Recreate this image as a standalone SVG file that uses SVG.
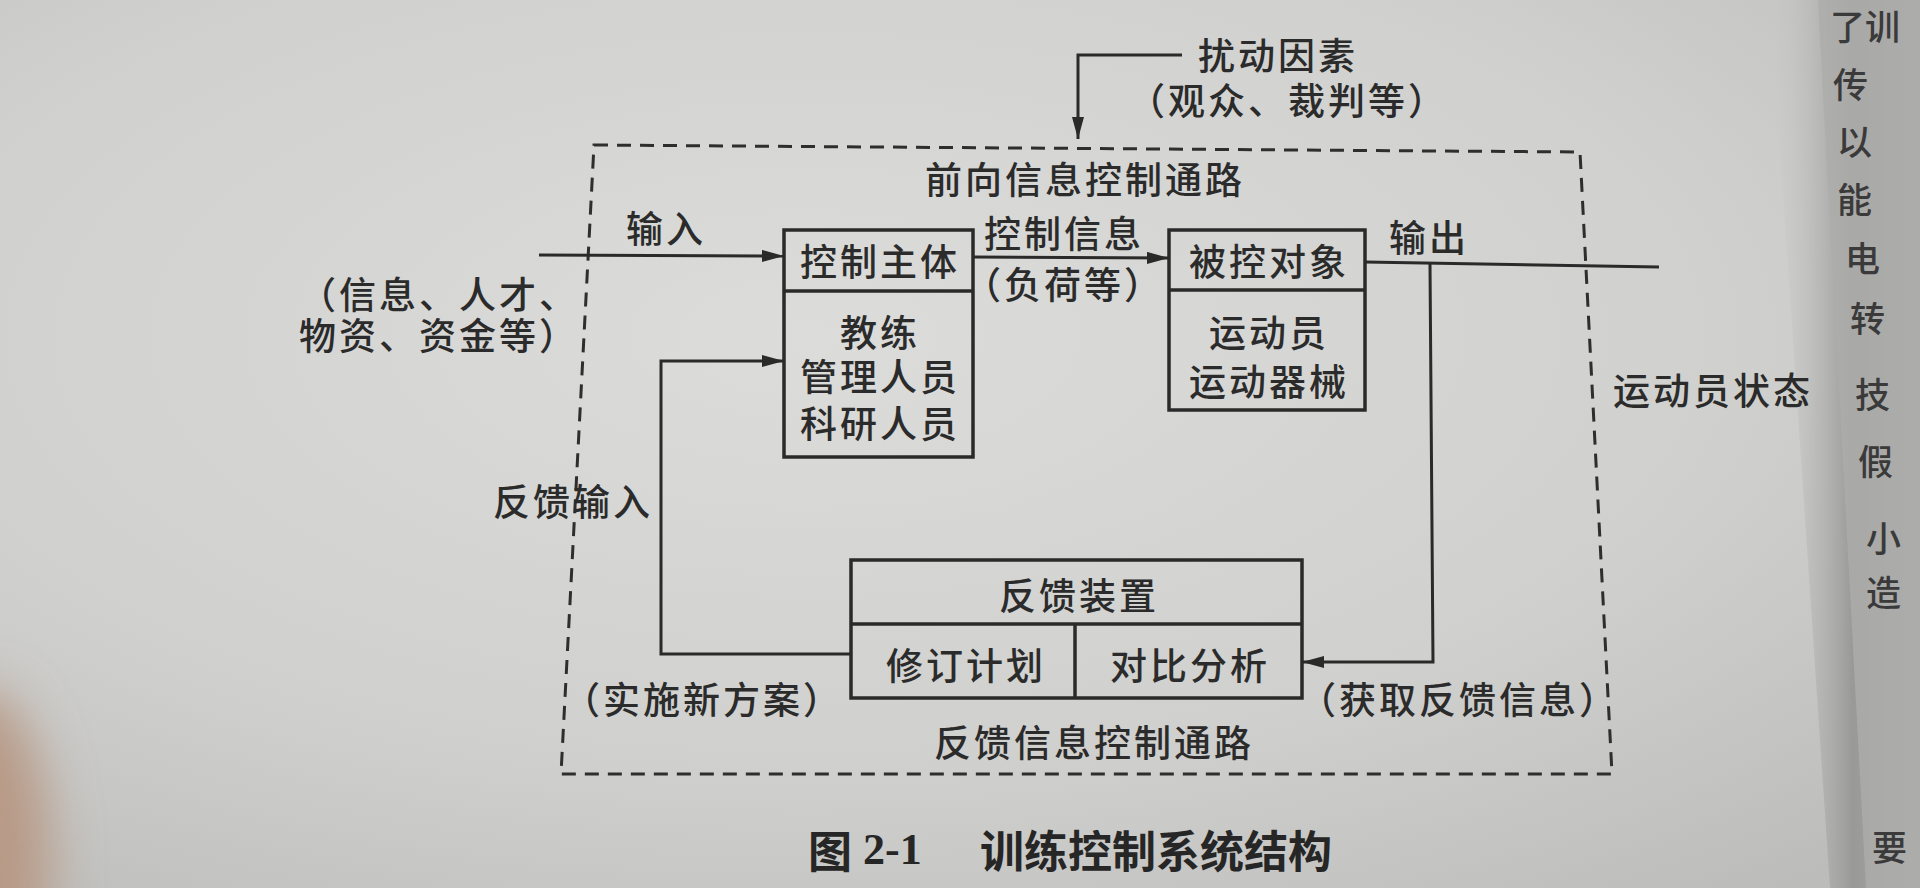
<svg xmlns="http://www.w3.org/2000/svg" width="1920" height="888" viewBox="0 0 1920 888">
<defs>
  <radialGradient id="bg" cx="0.42" cy="0.38" r="0.8">
    <stop offset="0" stop-color="#dcdcda"/>
    <stop offset="0.6" stop-color="#d0d0ce"/>
    <stop offset="1" stop-color="#bcbcba"/>
  </radialGradient>
  <linearGradient id="fold" x1="0" y1="0" x2="1" y2="0">
    <stop offset="0" stop-color="#c8c8c6" stop-opacity="0"/>
    <stop offset="0.55" stop-color="#999997"/>
    <stop offset="1" stop-color="#acacaa"/>
  </linearGradient>
  <filter id="blur" x="-50%" y="-50%" width="200%" height="200%"><feGaussianBlur stdDeviation="25"/></filter>
  <marker id="arr" viewBox="0 0 22 12" refX="22" refY="6" markerWidth="22" markerHeight="12" markerUnits="userSpaceOnUse" orient="auto">
    <path d="M0,0 L22,6 L0,12 Z" fill="#2a2a2a"/>
  </marker>
  <style>
    .t{font-family:"Noto Sans CJK SC","Noto Sans",sans-serif;font-size:37px;font-weight:500;letter-spacing:3px;fill:#2b2b2b;text-anchor:middle;dominant-baseline:central}
    .r{font-family:"Noto Sans CJK SC","Noto Sans",sans-serif;font-size:35px;font-weight:500;fill:#3a3a3a;dominant-baseline:central}
    .c{font-size:44px;font-weight:700;fill:#262626;dominant-baseline:central;font-family:"Noto Sans CJK SC","Noto Sans",sans-serif}
    .box{fill:none;stroke:#2a2a2a;stroke-width:3.5}
    .ln{fill:none;stroke:#2a2a2a;stroke-width:3}
    .dash{fill:none;stroke:#2e2e2e;stroke-width:3;stroke-dasharray:14 9}
  </style>
</defs>

<!-- page background -->
<rect x="0" y="0" width="1920" height="888" fill="url(#bg)"/>
<ellipse cx="-20" cy="860" rx="70" ry="170" fill="#b89a86" filter="url(#blur)"/>
<polygon points="1770,0 1830,888 1920,888 1920,0" fill="url(#fold)"/>
<polygon points="1818,0 1866,888 1920,888 1920,0" fill="#adadab" opacity="0.8"/>
<g id="facing-page">
  <text class="r" x="1830" y="24">了训</text>
  <text class="r" x="1833" y="82">传</text>
  <text class="r" x="1837" y="139">以</text>
  <text class="r" x="1837" y="197">能</text>
  <text class="r" x="1845" y="256">电</text>
  <text class="r" x="1850" y="316">转</text>
  <text class="r" x="1855" y="392">技</text>
  <text class="r" x="1858" y="459">假</text>
  <text class="r" x="1866" y="536">小</text>
  <text class="r" x="1866" y="590">造</text>
  <text class="r" x="1872" y="845">要</text>
</g>

<!-- system boundary -->
<g id="boundary">
  <polygon class="dash" points="594,145 1580,152 1612,774 561,774"/>
  <text class="t" x="1085" y="178">前向信息控制通路</text>
  <text class="t" x="1094" y="741">反馈信息控制通路</text>
</g>

<!-- connectors -->
<g id="connectors">
  <polyline class="ln" points="1182,55 1078,55 1078,139" marker-end="url(#arr)"/>
  <line class="ln" x1="539" y1="255" x2="784" y2="256" marker-end="url(#arr)"/>
  <line class="ln" x1="973" y1="257" x2="1169" y2="258" marker-end="url(#arr)"/>
  <line class="ln" x1="1365" y1="262" x2="1659" y2="267"/>
  <polyline class="ln" points="1430,264 1433,662 1302,662" marker-end="url(#arr)"/>
  <polyline class="ln" points="851,654 661,654 661,361 784,361" marker-end="url(#arr)"/>
</g>

<!-- labels -->
<g id="labels">
  <text class="t"><tspan x="1278" y="54">扰动因素</tspan><tspan x="1288" y="99">（观众、裁判等）</tspan></text>
  <text class="t" x="666" y="227">输入</text>
  <text class="t"><tspan x="439" y="293">（信息、人才、</tspan><tspan x="439" y="334">物资、资金等）</tspan></text>
  <text class="t"><tspan x="1064" y="232">控制信息</tspan><tspan x="1064" y="283">（负荷等）</tspan></text>
  <text class="t" x="1429" y="236">输出</text>
  <text class="t" x="1713" y="389">运动员状态</text>
  <text class="t" x="573" y="500">反馈输入</text>
  <text class="t" x="703" y="698">（实施新方案）</text>
  <text class="t" x="1459" y="698">（获取反馈信息）</text>
</g>

<g id="control-subject">
  <rect class="box" x="784" y="230" width="189" height="227"/>
  <line class="box" x1="784" y1="291" x2="973" y2="291"/>
  <text class="t" x="880" y="260">控制主体</text>
  <text class="t"><tspan x="880" y="331">教练</tspan><tspan x="880" y="375">管理人员</tspan><tspan x="880" y="422">科研人员</tspan></text>
</g>

<g id="controlled-object">
  <rect class="box" x="1169" y="230" width="196" height="180"/>
  <line class="box" x1="1169" y1="290" x2="1365" y2="290"/>
  <text class="t" x="1269" y="260">被控对象</text>
  <text class="t"><tspan x="1269" y="331">运动员</tspan><tspan x="1269" y="380">运动器械</tspan></text>
</g>

<g id="feedback-device">
  <rect class="box" x="851" y="560" width="451" height="138"/>
  <line class="box" x1="851" y1="624" x2="1302" y2="624"/>
  <line class="box" x1="1075" y1="624" x2="1075" y2="698"/>
  <text class="t" x="1079" y="594">反馈装置</text>
  <text class="t" x="966" y="664">修订计划</text>
  <text class="t" x="1190" y="664">对比分析</text>
</g>

<g id="caption">
  <text class="c" x="808" y="849">图</text>
  <text class="c" x="863" y="849" style="font-family:'Liberation Serif',serif">2-1</text>
  <text class="c" x="980" y="849">训练控制系统结构</text>
</g>
</svg>
